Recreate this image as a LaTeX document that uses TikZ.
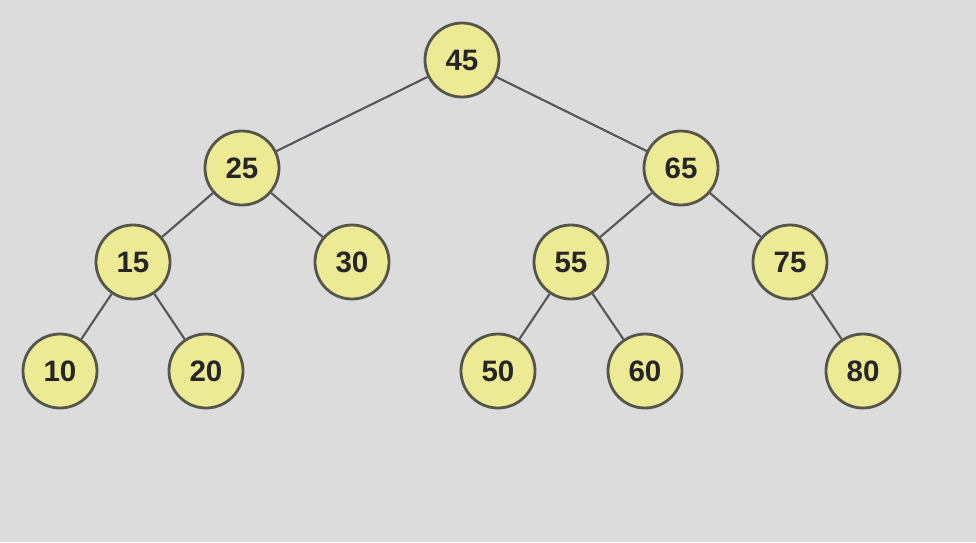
\documentclass[tikz,border=0pt]{standalone}
\usepackage{fontspec}
\setmainfont{Liberation Sans}
\definecolor{bgray}{HTML}{DCDCDC}
\definecolor{nodefill}{HTML}{EDEA96}
\definecolor{nodeline}{HTML}{55554A}
\definecolor{edgeline}{HTML}{55555A}

\begin{document}
\begin{tikzpicture}[x=0.025cm, y=-0.025cm,
  key/.style={circle, draw=nodeline, line width=2pt, fill=nodefill, minimum size=1.85cm, inner sep=0pt, font=\fontsize{21}{24}\selectfont\bfseries, text=black!85},
  link/.style={draw=edgeline, line width=1.5pt}]
\fill[bgray] (0,0) rectangle (976,542);
\useasboundingbox (0,0) rectangle (976,542);
% keys
\node[key] (n45) at (462,60) {45};
\node[key] (n25) at (242,168) {25};
\node[key] (n65) at (681,168) {65};
\node[key] (n15) at (133,262) {15};
\node[key] (n30) at (352,262) {30};
\node[key] (n55) at (571,262) {55};
\node[key] (n75) at (790,262) {75};
\node[key] (n10) at (60,371) {10};
\node[key] (n20) at (206,371) {20};
\node[key] (n50) at (498,371) {50};
\node[key] (n60) at (645,371) {60};
\node[key] (n80) at (863,371) {80};
% links
\path[link] (n45) -- (n25);
\path[link] (n45) -- (n65);
\path[link] (n25) -- (n15);
\path[link] (n25) -- (n30);
\path[link] (n65) -- (n55);
\path[link] (n65) -- (n75);
\path[link] (n15) -- (n10);
\path[link] (n15) -- (n20);
\path[link] (n55) -- (n50);
\path[link] (n55) -- (n60);
\path[link] (n75) -- (n80);
\end{tikzpicture}
\end{document}
